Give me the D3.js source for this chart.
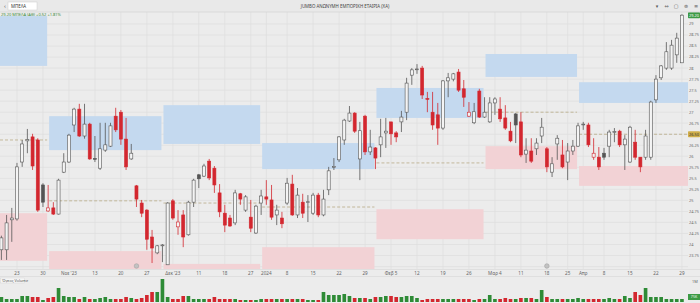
<!DOCTYPE html>
<html><head><meta charset="utf-8">
<script src="https://cdn.jsdelivr.net/npm/d3@7"></script>
<style>
body{margin:0;background:#ececec;overflow:hidden}
svg{display:block;font-family:"Noto Sans","DejaVu Sans",sans-serif}
</style></head><body>
<svg id="c" width="700" height="303"></svg>
<script>
// ---------- DATA ----------
const dates = ["2023-10-18","2023-10-19","2023-10-20","2023-10-23","2023-10-24","2023-10-25","2023-10-26","2023-10-27","2023-10-30","2023-10-31",
"2023-11-01","2023-11-02","2023-11-03","2023-11-06","2023-11-07","2023-11-08","2023-11-09","2023-11-10","2023-11-13","2023-11-14","2023-11-15","2023-11-16","2023-11-17","2023-11-20","2023-11-21","2023-11-22","2023-11-23","2023-11-24","2023-11-27","2023-11-28","2023-11-29","2023-11-30",
"2023-12-01","2023-12-04","2023-12-05","2023-12-06","2023-12-07","2023-12-08","2023-12-11","2023-12-12","2023-12-13","2023-12-14","2023-12-15","2023-12-18","2023-12-19","2023-12-20","2023-12-21","2023-12-22","2023-12-27","2023-12-28","2023-12-29",
"2024-01-02","2024-01-03","2024-01-04","2024-01-05","2024-01-08","2024-01-09","2024-01-10","2024-01-11","2024-01-12","2024-01-15","2024-01-16","2024-01-17","2024-01-18","2024-01-19","2024-01-22","2024-01-23","2024-01-24","2024-01-25","2024-01-26","2024-01-29","2024-01-30","2024-01-31",
"2024-02-01","2024-02-02","2024-02-05","2024-02-06","2024-02-07","2024-02-08","2024-02-09","2024-02-12","2024-02-13","2024-02-14","2024-02-15","2024-02-16","2024-02-19","2024-02-20","2024-02-21","2024-02-22","2024-02-23","2024-02-26","2024-02-27","2024-02-28","2024-02-29",
"2024-03-01","2024-03-04","2024-03-05","2024-03-06","2024-03-07","2024-03-08","2024-03-11","2024-03-12","2024-03-13","2024-03-14","2024-03-15","2024-03-19","2024-03-20","2024-03-21","2024-03-22","2024-03-26","2024-03-27","2024-03-28",
"2024-04-02","2024-04-03","2024-04-04","2024-04-05","2024-04-08","2024-04-09","2024-04-10","2024-04-11","2024-04-12","2024-04-15","2024-04-16","2024-04-17","2024-04-18","2024-04-19","2024-04-22","2024-04-23","2024-04-24","2024-04-25","2024-04-26","2024-04-29"];
const open  = [23.88,23.88,24.56,24.58,25.87,26.35,26.44,26.37,25.35,24.76,24.83,24.69,25.64,25.87,26.71,27.07,26.46,26.73,25.95,25.73,26.14,26.23,26.91,27.00,26.39,25.94,25.33,24.94,24.78,24.17,23.81,23.97,23.54,24.99,24.40,24.67,24.22,24.96,25.58,25.55,25.89,25.73,25.17,24.71,24.60,24.49,25.15,24.78,24.62,24.26,24.94,25.08,25.01,24.67,24.60,24.94,25.37,24.67,24.96,24.96,24.71,25.12,24.67,25.24,25.75,25.92,26.37,26.80,26.98,25.94,26.91,26.10,26.19,26.26,26.53,26.78,26.53,26.78,27.00,27.84,27.97,28.00,27.31,27.00,26.94,26.64,27.71,27.75,27.91,27.53,26.91,26.76,27.48,26.89,26.78,27.21,27.07,26.87,26.57,26.96,26.78,26.05,26.12,26.17,26.46,26.17,25.64,26.28,26.03,25.87,26.12,26.23,26.72,26.71,25.98,25.98,26.07,26.23,26.54,26.57,26.26,25.87,26.32,25.98,25.98,25.98,27.28,27.78,28.00,28.00,28.30,28.12];
const high  = [24.20,24.67,24.83,25.85,26.37,26.62,26.51,26.41,25.39,25.35,24.96,25.49,26.07,26.51,27.10,27.19,27.19,26.76,26.46,26.76,26.76,26.76,27.10,27.05,26.87,26.28,25.35,25.01,24.80,24.33,23.99,24.01,24.96,25.03,24.78,24.78,24.99,25.49,25.60,25.83,25.94,25.78,25.37,24.90,24.67,25.24,25.17,25.12,25.01,24.90,25.24,25.46,25.35,24.90,24.74,25.51,25.58,25.28,25.15,25.12,25.17,25.17,25.24,25.76,25.96,26.46,26.85,27.14,27.00,26.78,26.94,26.60,26.21,26.85,26.87,26.78,26.57,27.03,27.78,28.00,28.09,28.05,27.46,27.46,27.21,27.73,27.89,27.89,27.98,27.73,27.23,27.21,27.53,27.34,27.34,27.34,27.34,27.16,26.78,26.98,27.00,26.41,26.41,26.41,26.87,26.21,25.98,26.48,26.37,26.30,26.37,26.76,26.78,26.76,26.41,26.21,26.19,26.60,26.64,26.60,26.48,26.69,26.60,25.98,26.60,27.26,27.84,28.07,28.59,28.64,28.80,29.22];
const low   = [23.65,23.65,24.06,24.54,25.76,26.07,25.69,24.74,24.85,24.74,24.67,24.68,25.62,25.85,26.55,26.44,26.40,25.92,25.87,25.69,26.10,26.21,26.55,26.26,25.69,25.92,24.85,24.62,23.88,23.58,23.78,23.60,23.54,24.56,24.22,23.94,24.20,24.85,25.28,25.53,25.46,25.17,24.62,24.28,24.40,24.44,24.90,24.74,24.28,24.24,24.67,24.90,24.56,24.44,24.37,24.90,24.65,24.60,24.60,24.51,24.67,24.62,24.64,25.12,25.69,25.87,26.26,26.78,26.53,25.46,26.03,26.03,25.71,25.98,26.19,26.26,26.32,26.55,26.82,27.62,27.87,27.30,27.00,26.60,26.26,26.60,27.34,27.70,27.46,27.12,26.89,26.73,26.87,26.87,26.76,26.94,26.78,26.60,26.32,26.30,25.98,25.85,25.85,26.03,26.30,25.64,25.53,25.92,25.73,25.46,26.03,26.21,26.60,26.21,25.92,25.69,25.92,25.98,26.32,26.21,25.69,25.85,25.92,25.64,25.92,25.92,27.21,27.73,27.96,27.96,28.12,28.12];
const close = [24.15,24.49,24.60,25.76,26.28,26.38,25.78,24.78,24.96,24.83,24.69,25.46,25.87,26.48,27.07,26.46,26.73,25.94,25.94,26.17,26.26,26.69,26.60,26.39,25.76,26.07,25.03,24.71,24.12,23.92,23.97,23.99,24.94,24.60,24.51,24.17,24.96,25.46,25.49,25.78,25.51,25.35,24.74,24.44,24.42,25.17,25.03,25.08,24.37,24.87,25.10,25.03,24.62,24.78,24.47,25.39,24.67,25.12,24.71,24.97,25.12,24.67,25.03,25.67,25.77,26.44,26.82,26.98,26.57,26.58,26.10,26.21,25.96,26.44,26.57,26.51,26.44,26.89,27.66,27.96,27.98,27.39,27.30,26.71,26.64,27.71,27.78,27.87,27.50,27.34,27.00,27.01,26.89,27.00,27.21,27.30,26.85,26.64,26.35,26.71,26.03,26.14,25.89,26.30,26.66,25.76,25.83,26.41,25.76,26.12,26.23,26.69,26.73,26.26,26.07,25.76,25.98,26.55,26.56,26.26,26.39,26.66,25.98,25.76,26.46,27.23,27.75,28.05,28.37,28.52,28.68,29.20];
const volume = [125,75,75,75,150,150,125,125,50,100,125,350,150,125,125,75,125,75,75,100,125,75,75,75,125,100,75,100,175,250,250,575,125,75,75,150,150,75,75,75,75,125,75,75,75,75,50,50,50,50,75,75,75,75,75,75,75,75,75,50,50,50,250,175,175,175,200,150,100,100,100,75,125,125,150,150,125,125,150,150,100,50,75,75,75,75,75,75,75,75,75,50,75,75,175,75,75,100,75,75,100,100,100,75,300,125,75,75,75,75,75,100,75,75,75,75,75,100,75,75,150,100,250,175,350,125,125,125,75,75,75,75];
// price axis ticks, date ticks
const priceTicks = [29,28.75,28.5,28.25,28,27.75,27.5,27.25,27,26.75,26.25,26,25.75,25.5,25.25,25,24.75,24.5,24.25,24,23.75];
const gridPrices = [29,28.75,28.5,28.25,28,27.75,27.5,27.25,27,26.75,26.5,26.25,26,25.75,25.5,25.25,25,24.75,24.5,24.25,24,23.75,23.5];
const tickDates = ["2023-10-23","2023-10-30","2023-11-06","2023-11-13","2023-11-20","2023-11-27","2023-12-04","2023-12-11","2023-12-18","2023-12-27","2024-01-02","2024-01-08","2024-01-15","2024-01-22","2024-01-29","2024-02-05","2024-02-12","2024-02-19","2024-02-26","2024-03-04","2024-03-11","2024-03-19","2024-03-26","2024-04-02","2024-04-08","2024-04-15","2024-04-22","2024-04-29"];
const tickLabels = ["23","30","Νοε '23","13","20","27","Δεκ '23","11","18","27","2024","8","15","22","29","Φεβ 5","12","19","26","Μαρ 4","11","18","25","Απρ","8","15","22","29"];
// monthly zones
const zoneStart = [null,"2023-10-31","2023-11-30","2023-12-29","2024-01-31","2024-02-29","2024-03-28"];
const zoneEnd   = ["2023-10-31","2023-11-30","2023-12-29","2024-01-31","2024-02-29","2024-03-28",null];
const upperTop  = [29.18,26.91,27.16,26.30,27.55,28.32,27.68];
const upperBot  = [28.05,26.14,26.28,25.71,26.87,27.80,27.21];
const lowerTop  = [24.71,23.85,23.56,23.94,24.80,26.23,25.78];
const lowerBot  = [23.63,23.30,23.30,23.30,24.12,25.71,25.33];
const midLevel  = [26.37,24.99,24.94,24.85,25.85,27.00,26.50];
const eventDates = ["2023-11-23","2024-03-19"];
const lastPrice = "29.20", refPrice = "26.50";

// ---------- LAYOUT ----------
const svg = d3.select("#c");
const W = 700, H = 303;
const plotL = 0, plotR = 688, plotT = 12, plotB = 269;
const volT = 277, volB = 302;

const n = dates.length;
const x = d3.scaleBand().domain(dates).range([-1.2, -1.2 + 5.195*n]).paddingInner(0.3).paddingOuter(0.15);
const cx = d => x(d) + x.bandwidth()/2;
const y = d3.scaleLinear().domain([29 + 12/44.1, 29 - 245/44.1]).range([plotT, plotB]);
const vy = d3.scaleLinear().domain([0, d3.max(volume)]).range([volB, volB - 23]);

svg.append("rect").attr("width",W).attr("height",H).attr("fill","#ececec");

// clip
svg.append("clipPath").attr("id","pc").append("rect").attr("x",plotL).attr("y",plotT).attr("width",plotR-plotL).attr("height",plotB-plotT);
const plot = svg.append("g").attr("clip-path","url(#pc)");

// grid
plot.append("g").selectAll("line").data(gridPrices).join("line")
  .attr("x1",plotL).attr("x2",plotR).attr("y1",d=>y(d)).attr("y2",d=>y(d))
  .attr("stroke","#dedede").attr("stroke-width",0.7);
plot.append("g").selectAll("line").data(tickDates).join("line")
  .attr("x1",d=>cx(d)).attr("x2",d=>cx(d)).attr("y1",plotT).attr("y2",plotB)
  .attr("stroke","#dedede").attr("stroke-width",0.7);

// zones
const zx0 = i => zoneStart[i] ? cx(zoneStart[i]) + 1 : plotL;
const zx1 = i => zoneEnd[i] ? cx(zoneEnd[i]) - 1 : plotR;
const zi = d3.range(zoneStart.length);
plot.append("g").selectAll("rect").data(zi).join("rect")
  .attr("x",zx0).attr("width",i=>zx1(i)-zx0(i))
  .attr("y",i=>y(upperTop[i])).attr("height",i=>y(upperBot[i])-y(upperTop[i]))
  .attr("fill","#c4d9ef");
plot.append("g").selectAll("rect").data(zi).join("rect")
  .attr("x",zx0).attr("width",i=>zx1(i)-zx0(i))
  .attr("y",i=>y(lowerTop[i])).attr("height",i=>y(lowerBot[i])-y(lowerTop[i]))
  .attr("fill","#f2d2d5");
plot.append("g").selectAll("line").data(zi).join("line")
  .attr("x1",zx0).attr("x2",zx1).attr("y1",i=>y(midLevel[i])).attr("y2",i=>y(midLevel[i]))
  .attr("stroke","#b9ab86").attr("stroke-width",0.8).attr("stroke-dasharray","3,2");

// candles
const idx = d3.range(n);
const isUpColor = i => i === 0 ? close[i] >= open[i] : close[i] >= close[i-1];
const col = i => isUpColor(i) ? "#555555" : "#d3272f";
const bw = x.bandwidth();
const cg = plot.append("g");
cg.selectAll("line").data(idx).join("line")
  .attr("x1",i=>cx(dates[i])).attr("x2",i=>cx(dates[i]))
  .attr("y1",i=>y(high[i])).attr("y2",i=>y(low[i]))
  .attr("stroke",col).attr("stroke-width",0.8);
cg.selectAll("rect").data(idx).join("rect")
  .attr("x",i=>x(dates[i])+0.3).attr("width",bw-0.6)
  .attr("y",i=>y(Math.max(open[i],close[i])))
  .attr("height",i=>Math.max(0.8, Math.abs(y(open[i])-y(close[i]))))
  .attr("fill",i=> close[i] >= open[i] ? "#f4f4f4" : col(i))
  .attr("stroke",col).attr("stroke-width",0.6);

// event markers
plot.append("g").selectAll("circle").data(eventDates).join("circle")
  .attr("cx",d=>cx(d)).attr("cy",266).attr("r",2.3)
  .attr("fill","#c2c2c2").attr("stroke","#9a9a9a").attr("stroke-width",0.5);

// right axis
const ax = svg.append("g");
ax.selectAll("text").data(priceTicks).join("text")
  .attr("x",689).attr("y",d=>y(d)+1.4).attr("font-size",3.9).attr("fill","#666")
  .text(d=>d3.format("~g")(d));
// price tags
const tag = (yy, bg, fg, t) => {
  ax.append("rect").attr("x",688).attr("y",yy-3).attr("width",12).attr("height",6).attr("fill",bg).attr("rx",0.8);
  ax.append("text").attr("x",694).attr("y",yy+1.4).attr("text-anchor","middle").attr("font-size",3.9).attr("fill",fg).text(t);
};
tag(y(+lastPrice), "#3c9a45", "#fff", lastPrice);
tag(y(+refPrice), "#cfae4a", "#333", refPrice);

// x axis labels
svg.append("g").selectAll("text").data(tickDates).join("text")
  .attr("x",d=>cx(d)).attr("y",275).attr("text-anchor","middle").attr("font-size",4.6).attr("fill","#666")
  .text((d,i)=>tickLabels[i]);
svg.append("line").attr("x1",0).attr("x2",700).attr("y1",plotB+0.5).attr("y2",plotB+0.5).attr("stroke","#d6d6d6").attr("stroke-width",0.6);
svg.append("line").attr("x1",0).attr("x2",700).attr("y1",volT-0.5).attr("y2",volT-0.5).attr("stroke","#d6d6d6").attr("stroke-width",0.6);

// volume
svg.append("g").selectAll("rect").data(idx).join("rect")
  .attr("x",i=>x(dates[i])).attr("width",bw)
  .attr("y",i=>vy(volume[i])).attr("height",i=>volB - vy(volume[i]))
  .attr("fill",i=> isUpColor(i) ? "#2e8b36" : "#d3272f");
svg.append("rect").attr("x",0.5).attr("y",278).attr("width",24).attr("height",5).attr("fill","#f6f6f6").attr("stroke","#d0d0d0").attr("stroke-width",0.4);
svg.append("text").attr("x",2).attr("y",281.8).attr("font-size",3.8).attr("fill","#555").text("Όγκος Volume");
svg.append("text").attr("x",692).attr("y",283).attr("font-size",3.9).attr("fill","#666").text("1M");
svg.append("rect").attr("x",688).attr("y",294).attr("width",12).attr("height",6).attr("fill","#3c9a45");
svg.append("text").attr("x",694).attr("y",298.4).attr("text-anchor","middle").attr("font-size",3.6).attr("fill","#fff").text(d3.format(".0f")(volume[n-1])+"K");

// header
svg.append("rect").attr("x",0).attr("y",0).attr("width",W).attr("height",12).attr("fill","#e9e9e9");
svg.append("line").attr("x1",0).attr("x2",W).attr("y1",12).attr("y2",12).attr("stroke","#d2d2d2").attr("stroke-width",0.6);
svg.append("text").attr("x",4).attr("y",8.2).attr("font-size",6).attr("fill","#555").text("‹");
svg.append("rect").attr("x",8).attr("y",2).attr("width",29).attr("height",8).attr("fill","#fff").attr("stroke","#ccc").attr("stroke-width",0.5);
svg.append("text").attr("x",11).attr("y",7.6).attr("font-size",4.4).attr("fill","#333").text("ΜΠΕΛΑ");
svg.append("text").attr("x",345).attr("y",7.6).attr("text-anchor","middle").attr("font-size",4.4).attr("fill","#444")
  .text("JUMBO ΑΝΩΝΥΜΗ ΕΜΠΟΡΙΚΗ ΕΤΑΙΡΙΑ (ΧΑ)");
svg.append("text").attr("x",1).attr("y",16.2).attr("font-size",4).attr("fill","#3b8a3b")
  .text(lastPrice + " ΜΠΕΛΑ (ΑΘ) +0.52 +1.81%");
const icons = ["▾","⇔","▢","⊜","≡"];
svg.append("g").selectAll("text").data(icons).join("text")
  .attr("x",(d,i)=>[657,666.5,676,686,696][i]).attr("y",8).attr("text-anchor","middle")
  .attr("font-size",5).attr("fill","#555").text(d=>d);
</script>
</body></html>
